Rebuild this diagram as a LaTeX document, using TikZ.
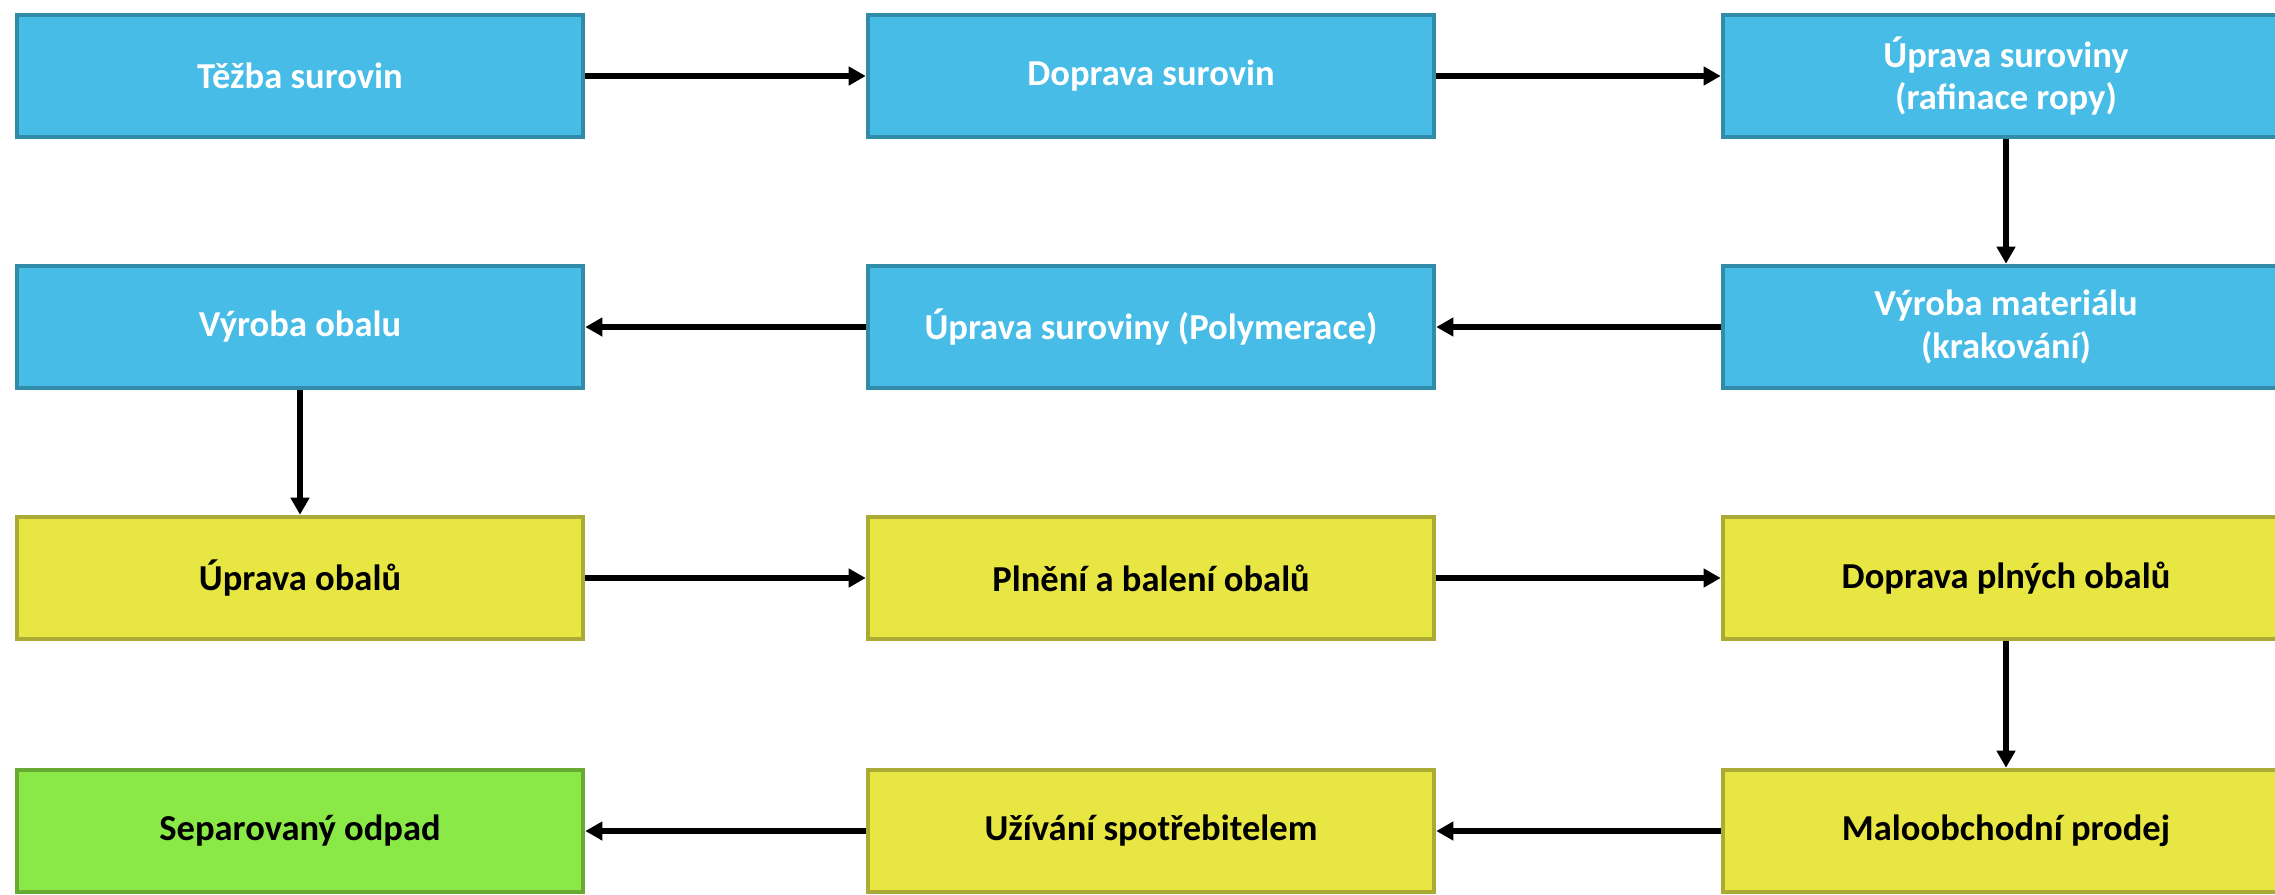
\documentclass[tikz,border=0pt]{standalone}
\usepackage{fontspec}
\setmainfont{Carlito}
\usetikzlibrary{arrows.meta}

\definecolor{rawfill}{RGB}{71,188,230}
\definecolor{rawline}{RGB}{49,140,170}
\definecolor{packfill}{RGB}{231,230,67}
\definecolor{packline}{RGB}{170,170,52}
\definecolor{wastefill}{RGB}{139,233,71}
\definecolor{wasteline}{RGB}{104,170,52}

\begin{document}
\begin{tikzpicture}[
  box/.style={draw, line width=1.3pt, minimum width=5.66cm, minimum height=1.22cm,
    inner sep=0pt, align=center, font=\fontsize{10.4}{12}\selectfont\bfseries},
  rawbox/.style={box, fill=rawfill, draw=rawline, text=white},
  packbox/.style={box, fill=packfill, draw=packline, text=black},
  wastebox/.style={box, fill=wastefill, draw=wasteline, text=black},
  flow/.style={-{Triangle[length=0.17cm, width=0.18cm]}, line width=1.7pt}
]
\newcommand{\ColA}{3.00}; % left column
\newcommand{\ColB}{11.51}; % middle column
\newcommand{\ColC}{20.06}; % right column

\useasboundingbox (0,0) rectangle (22.75,-8.94);
\clip (0,0) rectangle (22.75,-8.94);

% raw material
\node[rawbox] (tezba)    at (\ColA,-0.76) {Těžba surovin};
\node[rawbox] (doprava)  at (\ColB,-0.76) {Doprava surovin};
\node[rawbox] (rafinace) at (\ColC,-0.76) {Úprava suroviny\\(rafinace ropy)};
\node[rawbox] (material) at (\ColC,-3.27) {Výroba materiálu\\(krakování)};
\node[rawbox] (polymer)  at (\ColB,-3.27) {Úprava suroviny (Polymerace)};
\node[rawbox] (obal)     at (\ColA,-3.27) {Výroba obalu};
%

% packaging
\node[packbox] (upravaobal) at (\ColA,-5.78) {Úprava obalů};
\node[packbox] (plneni)     at (\ColB,-5.78) {Plnění a balení obalů};
\node[packbox] (dopravaobal) at (\ColC,-5.78) {Doprava plných obalů};
\node[packbox] (prodej)     at (\ColC,-8.31) {Maloobchodní prodej};
\node[packbox] (uzivani)    at (\ColB,-8.31) {Užívání spotřebitelem};
\node[wastebox] (odpad)     at (\ColA,-8.31) {Separovaný odpad};

% flow
\draw[flow] (tezba) -- (doprava);
\draw[flow] (doprava) -- (rafinace);
\draw[flow] (rafinace) -- (material);
\draw[flow] (material) -- (polymer);
\draw[flow] (polymer) -- (obal);
\draw[flow] (obal) -- (upravaobal);
\draw[flow] (upravaobal) -- (plneni);
\draw[flow] (plneni) -- (dopravaobal);
\draw[flow] (dopravaobal) -- (prodej);
\draw[flow] (prodej) -- (uzivani);
\draw[flow] (uzivani) -- (odpad);
\end{tikzpicture}
\end{document}
